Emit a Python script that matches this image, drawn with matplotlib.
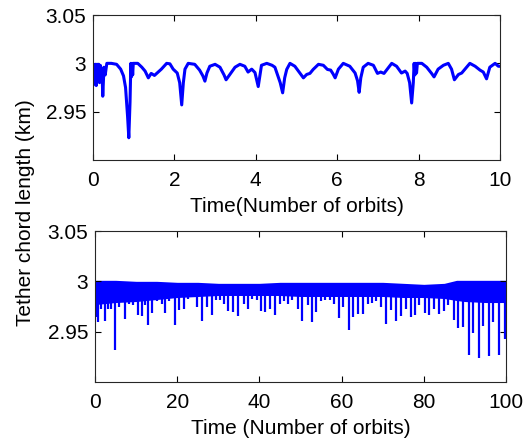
import matplotlib
matplotlib.use('Agg')
import matplotlib.pyplot as plt

plt.rcParams['font.family'] = ['Liberation Sans', 'DejaVu Sans']

# top panel: first 10 orbits
t_short = [0.00, 0.02, 0.04, 0.06, 0.08, 0.10, 0.12, 0.14, 0.16, 0.18, 0.20, 0.22, 0.24, 0.27, 0.30,
           0.34, 0.45, 0.58, 0.68, 0.75, 0.80, 0.85, 0.88, 0.91, 0.93, 0.945, 0.96, 0.975, 0.99,
           1.10, 1.20, 1.28, 1.36, 1.43, 1.51, 1.60, 1.68, 1.81, 1.89, 1.97, 2.07, 2.13, 2.18, 2.22,
           2.26, 2.34, 2.50, 2.62, 2.70, 2.75, 2.80, 2.87, 3.00, 3.12, 3.22, 3.27, 3.37, 3.49, 3.61,
           3.73, 3.81, 3.90, 3.98, 4.06, 4.14, 4.27, 4.40, 4.47, 4.53, 4.60, 4.66, 4.71, 4.76, 4.84,
           4.96, 5.09, 5.17, 5.25, 5.33, 5.41, 5.54, 5.66, 5.76, 5.84, 5.90, 5.95, 6.03, 6.15, 6.31,
           6.44, 6.50, 6.54, 6.58, 6.64, 6.76, 6.89, 6.99, 7.07, 7.15, 7.23, 7.34, 7.46, 7.58, 7.67,
           7.72, 7.78, 7.83, 7.87, 7.89, 7.91, 7.93, 7.95, 7.97, 8.08, 8.20, 8.32, 8.38, 8.48, 8.61,
           8.73, 8.81, 8.88, 8.98, 9.06, 9.14, 9.26, 9.39, 9.51, 9.59, 9.67, 9.75, 9.88, 9.96, 10.0]
len_short = [2.978, 2.999, 2.981, 2.999, 2.977, 2.999, 2.983, 2.999, 2.980, 2.998, 2.986, 2.995, 2.966, 2.996, 2.988,
             3.000, 3.000, 2.999, 2.994, 2.987, 2.975, 2.945, 2.923, 2.960, 3.000, 2.986, 3.000, 2.988, 3.000,
             3.000, 2.996, 2.992, 2.985, 2.9896, 2.9875, 2.991, 2.994, 3.000, 2.9995, 2.994, 2.990, 2.980, 2.957, 2.980,
             2.994, 3.000, 2.999, 2.993, 2.987, 2.9816, 2.990, 2.997, 2.999, 2.996, 2.988, 2.983, 2.989, 2.996, 2.999,
             2.997, 2.991, 2.994, 2.9905, 2.976, 2.998, 3.000, 2.998, 2.996, 2.9885, 2.980, 2.9695, 2.985, 2.9937, 3.000,
             2.997, 2.9896, 2.985, 2.9885, 2.9896, 2.9937, 2.999, 2.998, 2.9937, 2.993, 2.989, 2.985, 2.994, 3.000, 2.997,
             2.990, 2.982, 2.970, 2.985, 2.996, 3.000, 2.998, 2.9896, 2.991, 2.9896, 2.994, 3.000, 2.997, 2.990, 2.992,
             2.9896, 2.980, 2.959, 2.980, 3.000, 2.988, 3.000, 2.990, 3.000, 3.000, 2.996, 2.9896, 2.986, 2.994, 2.998,
             3.000, 2.994, 2.983, 2.9885, 2.990, 2.994, 3.000, 2.997, 2.993, 2.991, 2.984, 2.996, 3.000, 2.997, 2.997]

# bottom panel: 100 orbits, dense band + downward spikes
t_band = [0, 5, 10, 15, 20, 25, 30, 35, 40, 45, 50, 55, 60, 65, 70, 75, 80, 85, 88, 90, 95, 100]
band_top = [3.0, 3.0, 2.999, 2.999, 2.998, 2.998, 2.997, 2.997, 2.997, 2.998, 2.998, 2.998, 2.998,
            2.998, 2.998, 2.997, 2.996, 2.997, 3.0, 3.0, 3.0, 3.0]
band_bot = [2.978, 2.980, 2.981, 2.983, 2.985, 2.986, 2.987, 2.987, 2.987, 2.987, 2.986, 2.986, 2.986,
            2.986, 2.986, 2.985, 2.985, 2.984, 2.982, 2.981, 2.980, 2.980]

spike_t = [0.24, 0.73, 1.54, 2.5, 3.16, 3.98, 4.95, 5.76, 7.22, 8.35, 9.17, 10.46, 11.44, 12.08, 12.9,
           13.87, 14.27, 15.09, 16.3, 16.96, 18.08, 19.39, 20.5, 21.65, 22.6, 23.4, 24.7, 25.95, 27.2,
           28.4, 29.4, 30.4, 31.5, 32.45, 33.65, 34.9, 36.3, 37.3, 38.3, 39.3, 40.4, 41.4, 42.6, 43.8,
           45.0, 46.1, 47.0, 48.0, 49.3, 50.4, 51.7, 52.8, 53.85, 54.9, 56.0, 57.1, 58.2, 59.3, 60.3,
           61.8, 62.8, 64.0, 65.2, 66.3, 67.4, 68.4, 69.7, 70.9, 71.9, 73.3, 74.4, 75.7, 76.9, 77.9,
           78.9, 80.3, 81.3, 82.4, 83.8, 84.8, 85.8, 87.3, 88.4, 89.6, 90.9, 92.0, 93.4, 94.5, 95.9,
           96.9, 98.4, 99.8]
spike_len = [2.965, 2.9595, 2.973, 2.961, 2.973, 2.973, 2.932, 2.975, 2.963, 2.978, 2.9765, 2.967, 2.9656,
             2.9765, 2.957, 2.969, 2.9834, 2.980, 2.978, 2.969, 2.980, 2.957, 2.9714, 2.9725, 2.9826, 2.984,
             2.975, 2.961, 2.975, 2.9663, 2.9816, 2.9816, 2.978, 2.9704, 2.970, 2.9656, 2.978, 2.973, 2.9826,
             2.9816, 2.9704, 2.970, 2.973, 2.967, 2.978, 2.980, 2.978, 2.9816, 2.973, 2.961, 2.9765, 2.9595,
             2.970, 2.980, 2.9816, 2.981, 2.978, 2.9636, 2.975, 2.952, 2.9646, 2.968, 2.968, 2.978, 2.979,
             2.9806, 2.975, 2.958, 2.9714, 2.961, 2.9656, 2.973, 2.9646, 2.9663, 2.9765, 2.969, 2.9663, 2.973,
             2.968, 2.9704, 2.9765, 2.962, 2.9534, 2.9544, 2.927, 2.949, 2.924, 2.956, 2.9255, 2.960, 2.927,
             2.943]

yticks = [2.95, 3.0, 3.05]
ytick_labels = ['2.95', '3', '3.05']
blue = '#0000ff'
fs = 15


def style_axes(ax):
    ax.set_ylim(2.90, 3.05)
    ax.set_yticks(yticks)
    ax.set_yticklabels(ytick_labels)
    ax.tick_params(direction='in', top=True, right=True, length=4, width=0.8,
                   labelsize=fs, pad=5)
    ax.tick_params(axis='x', pad=8)
    for s in ax.spines.values():
        s.set_linewidth(0.8)
        s.set_color('#262626')


fig = plt.figure(figsize=(5.32, 4.42), dpi=100)

# Top plot
ax1 = fig.add_axes([0.1748, 0.638, 0.765, 0.328])
ax1.plot(t_short, len_short, color=blue, lw=2.2)
ax1.set_xlim(0, 10)
ax1.set_xticks(range(0, 11, 2))
style_axes(ax1)
ax1.set_xlabel('Time(Number of orbits)', fontsize=fs, labelpad=5)

# Bottom plot
ax2 = fig.add_axes([0.1786, 0.1357, 0.7726, 0.3416])
ax2.fill_between(t_band, band_bot, band_top, color=blue, lw=1.5, edgecolor=blue)
ax2.vlines(spike_t, spike_len, 2.99, color=blue, lw=1.6)
ax2.set_xlim(0, 100)
ax2.set_xticks(range(0, 101, 20))
style_axes(ax2)
ax2.set_xlabel('Time (Number of orbits)', fontsize=fs, labelpad=5)

fig.text(0.047, 0.52, 'Tether chord length (km)', rotation=90,
         ha='center', va='center', fontsize=fs)

fig.savefig('out.png', dpi=100)
